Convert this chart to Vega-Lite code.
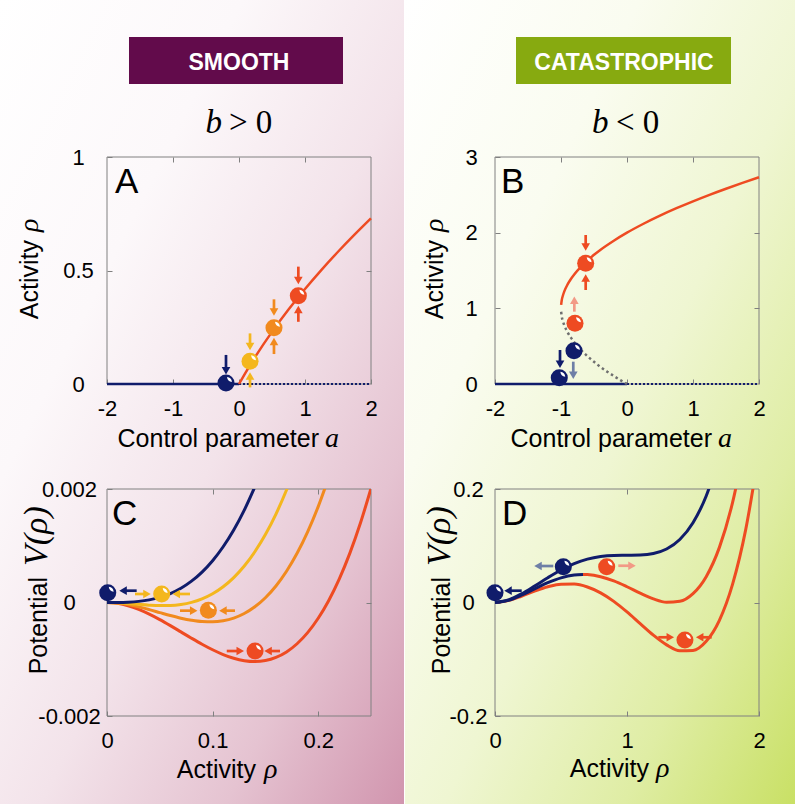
{
"$schema": "https://vega.github.io/schema/vega-lite/v6.json",
"padding": 0,
"autosize": {"type": "pad"},
"background": "white",
"bounds": "flush",
"columns": 2,
"spacing": {"row": 105, "column": 124},
"datasets": {
"aSolid": [{"x":-2,"y":0},{"x":0,"y":0}],
"aDot": [{"x":0,"y":0},{"x":2,"y":0}],
"aCurve": [{"x":0,"y":0},{"x":0.1,"y":0.0505},{"x":0.25,"y":0.1215},{"x":0.5,"y":0.2295},{"x":0.75,"y":0.3277},{"x":1,"y":0.4183},{"x":1.25,"y":0.503},{"x":1.5,"y":0.5826},{"x":1.75,"y":0.658},{"x":2,"y":0.73}],
"aBall": [{"x":-0.197,"y":0.004,"s":"navy"},{"x":0.167,"y":0.1,"s":"yellow"},{"x":0.53,"y":0.248,"s":"orange"},{"x":0.899,"y":0.389,"s":"red"}],
"aArr": [
{"x":-0.197,"y":0.128,"hx":-0.197,"hy":0.058,"s":"navy","d":"down"},
{"x":0.167,"y":0.223,"hx":0.167,"hy":0.165,"s":"yellow","d":"down"},
{"x":0.167,"y":-0.015,"hx":0.167,"hy":0.035,"s":"yellow","d":"up"},
{"x":0.53,"y":0.373,"hx":0.53,"hy":0.317,"s":"orange","d":"down"},
{"x":0.53,"y":0.132,"hx":0.53,"hy":0.187,"s":"orange","d":"up"},
{"x":0.899,"y":0.517,"hx":0.899,"hy":0.456,"s":"red","d":"down"},
{"x":0.899,"y":0.274,"hx":0.899,"hy":0.328,"s":"red","d":"up"}],
"bSolid": [{"x":-2,"y":0},{"x":0,"y":0}],
"bDot": [{"x":0,"y":0},{"x":2,"y":0}],
"bStable": [{"x":-0.998,"y":1.045},{"x":-0.99,"y":1.1},{"x":-0.97,"y":1.173},{"x":-0.95,"y":1.224},{"x":-0.9,"y":1.316},{"x":-0.85,"y":1.387},{"x":-0.8,"y":1.447},{"x":-0.7,"y":1.548},{"x":-0.6,"y":1.632},{"x":-0.5,"y":1.707},{"x":-0.4,"y":1.775},{"x":-0.2,"y":1.894},{"x":0,"y":2},{"x":0.25,"y":2.118},{"x":0.5,"y":2.225},{"x":0.75,"y":2.323},{"x":1,"y":2.414},{"x":1.25,"y":2.5},{"x":1.5,"y":2.581},{"x":1.75,"y":2.658},{"x":2,"y":2.732}],
"bUnstable": [{"x":-0.998,"y":0.955},{"x":-0.99,"y":0.9},{"x":-0.97,"y":0.827},{"x":-0.95,"y":0.776},{"x":-0.9,"y":0.684},{"x":-0.85,"y":0.613},{"x":-0.8,"y":0.553},{"x":-0.7,"y":0.452},{"x":-0.6,"y":0.368},{"x":-0.5,"y":0.293},{"x":-0.4,"y":0.225},{"x":-0.3,"y":0.163},{"x":-0.2,"y":0.106},{"x":-0.1,"y":0.051},{"x":0,"y":0}],
"bBall": [{"x":-1.026,"y":0.083,"s":"navy"},{"x":-0.803,"y":0.44,"s":"navy"},{"x":-0.788,"y":0.802,"s":"red"},{"x":-0.626,"y":1.595,"s":"red"}],
"bArr": [
{"x":-0.626,"y":1.969,"hx":-0.626,"hy":1.811,"s":"red","d":"down"},
{"x":-0.626,"y":1.242,"hx":-0.626,"hy":1.401,"s":"red","d":"up"},
{"x":-0.798,"y":0.956,"hx":-0.798,"hy":1.106,"s":"salmon","d":"up"},
{"x":-1.015,"y":0.449,"hx":-1.015,"hy":0.26,"s":"navy","d":"down"},
{"x":-0.814,"y":0.295,"hx":-0.814,"hy":0.115,"s":"slate","d":"down"}],
"cCurve": [
{"x":0,"y":0,"k":"r","s":"red"},{"x":0.01,"y":-0.000015,"k":"r","s":"red"},{"x":0.02,"y":-0.000057,"k":"r","s":"red"},{"x":0.03,"y":-0.0001217,"k":"r","s":"red"},{"x":0.04,"y":-0.0002045,"k":"r","s":"red"},{"x":0.05,"y":-0.0003012,"k":"r","s":"red"},{"x":0.06,"y":-0.0004071,"k":"r","s":"red"},{"x":0.07,"y":-0.0005178,"k":"r","s":"red"},{"x":0.08,"y":-0.0006287,"k":"r","s":"red"},{"x":0.09,"y":-0.0007353,"k":"r","s":"red"},{"x":0.1,"y":-0.0008329,"k":"r","s":"red"},{"x":0.11,"y":-0.0009169,"k":"r","s":"red"},{"x":0.12,"y":-0.0009826,"k":"r","s":"red"},{"x":0.13,"y":-0.0010252,"k":"r","s":"red"},{"x":0.14,"y":-0.0010402,"k":"r","s":"red"},{"x":0.15,"y":-0.0010227,"k":"r","s":"red"},{"x":0.16,"y":-0.0009678,"k":"r","s":"red"},{"x":0.17,"y":-0.0008709,"k":"r","s":"red"},{"x":0.18,"y":-0.0007269,"k":"r","s":"red"},{"x":0.19,"y":-0.0005311,"k":"r","s":"red"},{"x":0.2,"y":-0.0002784,"k":"r","s":"red"},{"x":0.21,"y":0.0000361,"k":"r","s":"red"},{"x":0.22,"y":0.0004173,"k":"r","s":"red"},{"x":0.23,"y":0.0008702,"k":"r","s":"red"},{"x":0.24,"y":0.0014,"k":"r","s":"red"},{"x":0.25,"y":0.0020117,"k":"r","s":"red"},
{"x":0,"y":0,"k":"o","s":"orange"},{"x":0.01,"y":-0.0000101,"k":"o","s":"orange"},{"x":0.02,"y":-0.0000373,"k":"o","s":"orange"},{"x":0.03,"y":-0.0000774,"k":"o","s":"orange"},{"x":0.04,"y":-0.0001258,"k":"o","s":"orange"},{"x":0.05,"y":-0.0001782,"k":"o","s":"orange"},{"x":0.06,"y":-0.00023,"k":"o","s":"orange"},{"x":0.07,"y":-0.0002767,"k":"o","s":"orange"},{"x":0.08,"y":-0.0003138,"k":"o","s":"orange"},{"x":0.09,"y":-0.0003368,"k":"o","s":"orange"},{"x":0.1,"y":-0.0003409,"k":"o","s":"orange"},{"x":0.11,"y":-0.0003216,"k":"o","s":"orange"},{"x":0.12,"y":-0.0002741,"k":"o","s":"orange"},{"x":0.13,"y":-0.0001937,"k":"o","s":"orange"},{"x":0.14,"y":-0.0000759,"k":"o","s":"orange"},{"x":0.15,"y":0.0000843,"k":"o","s":"orange"},{"x":0.16,"y":0.0002917,"k":"o","s":"orange"},{"x":0.17,"y":0.000551,"k":"o","s":"orange"},{"x":0.18,"y":0.0008672,"k":"o","s":"orange"},{"x":0.19,"y":0.001245,"k":"o","s":"orange"},{"x":0.2,"y":0.0016896,"k":"o","s":"orange"},{"x":0.21,"y":0.0022058,"k":"o","s":"orange"},
{"x":0,"y":0,"k":"y","s":"yellow"},{"x":0.01,"y":-0.0000051,"k":"y","s":"yellow"},{"x":0.02,"y":-0.0000175,"k":"y","s":"yellow"},{"x":0.03,"y":-0.0000328,"k":"y","s":"yellow"},{"x":0.04,"y":-0.0000466,"k":"y","s":"yellow"},{"x":0.05,"y":-0.0000545,"k":"y","s":"yellow"},{"x":0.06,"y":-0.0000518,"k":"y","s":"yellow"},{"x":0.07,"y":-0.0000342,"k":"y","s":"yellow"},{"x":0.08,"y":0.000003,"k":"y","s":"yellow"},{"x":0.09,"y":0.0000642,"k":"y","s":"yellow"},{"x":0.1,"y":0.0001541,"k":"y","s":"yellow"},{"x":0.11,"y":0.0002774,"k":"y","s":"yellow"},{"x":0.12,"y":0.0004387,"k":"y","s":"yellow"},{"x":0.13,"y":0.0006428,"k":"y","s":"yellow"},{"x":0.14,"y":0.0008943,"k":"y","s":"yellow"},{"x":0.15,"y":0.001198,"k":"y","s":"yellow"},{"x":0.16,"y":0.0015589,"k":"y","s":"yellow"},{"x":0.17,"y":0.0019815,"k":"y","s":"yellow"},{"x":0.18,"y":0.002471,"k":"y","s":"yellow"},
{"x":0,"y":0,"k":"n","s":"navy"},{"x":0.01,"y":0.0000007,"k":"n","s":"navy"},{"x":0.02,"y":0.0000058,"k":"n","s":"navy"},{"x":0.03,"y":0.0000197,"k":"n","s":"navy"},{"x":0.04,"y":0.0000467,"k":"n","s":"navy"},{"x":0.05,"y":0.0000913,"k":"n","s":"navy"},{"x":0.06,"y":0.0001581,"k":"n","s":"navy"},{"x":0.07,"y":0.0002515,"k":"n","s":"navy"},{"x":0.08,"y":0.0003761,"k":"n","s":"navy"},{"x":0.09,"y":0.0005364,"k":"n","s":"navy"},{"x":0.1,"y":0.0007371,"k":"n","s":"navy"},{"x":0.11,"y":0.0009828,"k":"n","s":"navy"},{"x":0.12,"y":0.0012782,"k":"n","s":"navy"},{"x":0.13,"y":0.0016281,"k":"n","s":"navy"},{"x":0.14,"y":0.002037,"k":"n","s":"navy"}],
"cBall": [{"x":0.0007,"y":0.000173,"s":"navy"},{"x":0.0518,"y":0.00015,"s":"yellow"},{"x":0.096,"y":-0.000138,"s":"orange"},{"x":0.1402,"y":-0.000855,"s":"red"}],
"cArr": [
{"x":0.0281,"y":0.000208,"hx":0.0152,"hy":0.000208,"s":"navy","d":"left"},
{"x":0.0265,"y":0.00015,"hx":0.0379,"hy":0.00015,"s":"yellow","d":"right"},
{"x":0.0786,"y":0.00015,"hx":0.0656,"hy":0.00015,"s":"yellow","d":"left"},
{"x":0.0691,"y":-0.000144,"hx":0.0821,"hy":-0.000144,"s":"orange","d":"right"},
{"x":0.1212,"y":-0.000144,"hx":0.1098,"hy":-0.000144,"s":"orange","d":"left"},
{"x":0.1134,"y":-0.000855,"hx":0.1262,"hy":-0.000855,"s":"red","d":"right"},
{"x":0.1638,"y":-0.000855,"hx":0.1525,"hy":-0.000855,"s":"red","d":"left"}],
"dCurve": [
{"x":0,"y":0,"k":"b","s":"red"},{"x":0.1,"y":0.003358,"k":"b","s":"red"},{"x":0.2,"y":0.011067,"k":"b","s":"red"},{"x":0.3,"y":0.020025,"k":"b","s":"red"},{"x":0.4,"y":0.027733,"k":"b","s":"red"},{"x":0.5,"y":0.032292,"k":"b","s":"red"},{"x":0.6,"y":0.0324,"k":"b","s":"red"},{"x":0.7,"y":0.027358,"k":"b","s":"red"},{"x":0.8,"y":0.017067,"k":"b","s":"red"},{"x":0.9,"y":0.002025,"k":"b","s":"red"},{"x":1.0,"y":-0.016667,"k":"b","s":"red"},{"x":1.1,"y":-0.037308,"k":"b","s":"red"},{"x":1.2,"y":-0.0576,"k":"b","s":"red"},{"x":1.3,"y":-0.074642,"k":"b","s":"red"},{"x":1.4,"y":-0.084933,"k":"b","s":"red"},{"x":1.5,"y":-0.084375,"k":"b","s":"red"},{"x":1.6,"y":-0.068267,"k":"b","s":"red"},{"x":1.7,"y":-0.031308,"k":"b","s":"red"},{"x":1.8,"y":0.0324,"k":"b","s":"red"},{"x":1.9,"y":0.129358,"k":"b","s":"red"},{"x":2.0,"y":0.266667,"k":"b","s":"red"},
{"x":0.6667,"y":0.049383,"k":"m2","s":"red"},{"x":0.7,"y":0.049136,"k":"m2","s":"red"},{"x":0.8,"y":0.045511,"k":"m2","s":"red"},{"x":0.9,"y":0.038025,"k":"m2","s":"red"},{"x":1.0,"y":0.027777,"k":"m2","s":"red"},{"x":1.1,"y":0.01647,"k":"m2","s":"red"},{"x":1.2,"y":0.0064,"k":"m2","s":"red"},{"x":1.3,"y":0.000469,"k":"m2","s":"red"},{"x":1.4,"y":0.002178,"k":"m2","s":"red"},{"x":1.5,"y":0.015625,"k":"m2","s":"red"},{"x":1.6,"y":0.045511,"k":"m2","s":"red"},{"x":1.7,"y":0.097136,"k":"m2","s":"red"},{"x":1.8,"y":0.1764,"k":"m2","s":"red"},{"x":1.9,"y":0.289802,"k":"m2","s":"red"},
{"x":0,"y":0,"k":"m1","s":"navy"},{"x":0.1,"y":0.003802,"k":"m1","s":"navy"},{"x":0.2,"y":0.012845,"k":"m1","s":"navy"},{"x":0.3,"y":0.024025,"k":"m1","s":"navy"},{"x":0.4,"y":0.034844,"k":"m1","s":"navy"},{"x":0.5,"y":0.043403,"k":"m1","s":"navy"},{"x":0.6,"y":0.0484,"k":"m1","s":"navy"},{"x":0.6667,"y":0.049383,"k":"m1","s":"navy"},
{"x":0,"y":0,"k":"t","s":"navy"},{"x":0.1,"y":0.004358,"k":"t","s":"navy"},{"x":0.2,"y":0.015067,"k":"t","s":"navy"},{"x":0.3,"y":0.029025,"k":"t","s":"navy"},{"x":0.4,"y":0.043733,"k":"t","s":"navy"},{"x":0.5,"y":0.057292,"k":"t","s":"navy"},{"x":0.6,"y":0.0684,"k":"t","s":"navy"},{"x":0.7,"y":0.076358,"k":"t","s":"navy"},{"x":0.8,"y":0.081067,"k":"t","s":"navy"},{"x":0.9,"y":0.083025,"k":"t","s":"navy"},{"x":1.0,"y":0.083333,"k":"t","s":"navy"},{"x":1.1,"y":0.083692,"k":"t","s":"navy"},{"x":1.2,"y":0.0864,"k":"t","s":"navy"},{"x":1.3,"y":0.094358,"k":"t","s":"navy"},{"x":1.4,"y":0.111067,"k":"t","s":"navy"},{"x":1.5,"y":0.140625,"k":"t","s":"navy"},{"x":1.6,"y":0.187733,"k":"t","s":"navy"},{"x":1.7,"y":0.257692,"k":"t","s":"navy"}],
"dBall": [{"x":0,"y":0.0173,"s":"navy"},{"x":0.5177,"y":0.0631,"s":"navy"},{"x":0.846,"y":0.0631,"s":"red"},{"x":1.439,"y":-0.0661,"s":"red"}],
"dArr": [
{"x":0.2023,"y":0.0208,"hx":0.0985,"hy":0.0208,"s":"navy","d":"left"},
{"x":0.4417,"y":0.0643,"hx":0.3258,"hy":0.0643,"s":"slate","d":"left"},
{"x":0.9341,"y":0.0648,"hx":1.0379,"hy":0.0648,"s":"salmon","d":"right"},
{"x":1.2371,"y":-0.0613,"hx":1.328,"hy":-0.0613,"s":"red","d":"right"},
{"x":1.6417,"y":-0.0613,"hx":1.5508,"hy":-0.0613,"s":"red","d":"left"}]
},
"concat": [
{"width": 264, "height": 52,
 "data":{"values":[{}]},
 "mark":{"type":"rect","fill":{"gradient":"linear","x1":0,"y1":0,"x2":1,"y2":1,"stops":[{"offset":0,"color":"#ffffff"},{"offset":0.3,"color":"#fcf8fa"},{"offset":0.55,"color":"#f3e3ea"},{"offset":0.78,"color":"#e5c3d1"},{"offset":1,"color":"#d195ae"}]}},
 "encoding":{"x":{"datum":-0.4053,"type":"quantitative","scale":{"domain":[0,1],"nice":false,"zero":false},"axis":null},"x2":{"datum":1.125},
 "y":{"datum":1,"type":"quantitative","scale":{"domain":[0,1],"nice":false,"zero":false},"axis":null},"y2":{"datum":-14.4615}}},
{"width": 264, "height": 52,
 "data":{"values":[{}]},
 "mark":{"type":"rect","fill":{"gradient":"linear","x1":0,"y1":0,"x2":1,"y2":1,"stops":[{"offset":0,"color":"#ffffff"},{"offset":0.3,"color":"#fafcf0"},{"offset":0.55,"color":"#eff6d2"},{"offset":0.78,"color":"#dfeda4"},{"offset":1,"color":"#c9e065"}]}},
 "encoding":{"x":{"datum":-0.34091,"type":"quantitative","scale":{"domain":[0,1],"nice":false,"zero":false},"axis":null},"x2":{"datum":1.13636},
 "y":{"datum":1,"type":"quantitative","scale":{"domain":[0,1],"nice":false,"zero":false},"axis":null},"y2":{"datum":-14.4615}}},
{
"width": 264, "height": 227,
"resolve": {"axis": {"x": "independent", "y": "independent"}},
"layer": [
{"layer": [
{"data":{"values":[{}]},"mark":{"type":"rect","fill":"transparent","stroke":"#808080","strokeWidth":1},
 "encoding":{"x":{"datum":-2,"type":"quantitative","scale":{"domain":[-2,2],"nice":false,"zero":false},"axis":{"orient":"bottom","values":[-2,-1,0,1,2],"title":null,"labelPadding":19,"labelExpr":"replace(format(datum.value, '~r'), '\u2212', '-')"}},"x2":{"datum":2},
 "y":{"datum":0,"type":"quantitative","scale":{"domain":[0,1],"nice":false,"zero":false},"axis":{"orient":"left","values":[0,0.5,1],"title":null,"labelAlign":"center","labelPadding":34,"labelExpr":"replace(format(datum.value, '~r'), '\u2212', '-')"}},"y2":{"datum":1}}},
{"data":{"values":[{}]},"mark":{"type":"rect","fill":"#620b4b"},"encoding":{"x":{"datum":-1.6667,"type":"quantitative"},"x2":{"datum":1.5758},"y":{"datum":1.5286,"type":"quantitative"},"y2":{"datum":1.3216}}},
{"data":{"values":[{}]},"mark":{"type":"text","text":"SMOOTH","font":"Liberation Sans","fontSize":23,"fontWeight":"bold","color":"#ffffff","align":"center","baseline":"alphabetic"},"encoding":{"x":{"datum":0,"type":"quantitative"},"y":{"datum":1.3833,"type":"quantitative"}}},
{"data":{"values":[{}]},"mark":{"type":"text","text":"b","font":"Liberation Serif","fontSize":33,"fontStyle":"italic","color":"#000000","align":"right","baseline":"alphabetic"},"encoding":{"x":{"datum":-0.2576,"type":"quantitative"},"y":{"datum":1.1057,"type":"quantitative"}}},
{"data":{"values":[{}]},"mark":{"type":"text","text":"> 0","font":"Liberation Serif","fontSize":33,"color":"#000000","align":"left","baseline":"alphabetic"},"encoding":{"x":{"datum":-0.1515,"type":"quantitative"},"y":{"datum":1.1057,"type":"quantitative"}}},
{"data":{"name":"aSolid"},"mark":{"type":"line","color":"#101c6b","strokeWidth":2.5},"encoding":{"x":{"field":"x","type":"quantitative","title":null},"y":{"field":"y","type":"quantitative","title":null}}},
{"data":{"name":"aDot"},"mark":{"type":"line","color":"#101c6b","strokeWidth":2,"strokeDash":[2,2]},"encoding":{"x":{"field":"x","type":"quantitative","title":null},"y":{"field":"y","type":"quantitative","title":null}}},
{"data":{"name":"aCurve"},"mark":{"type":"line","color":"#ee4b22","strokeWidth":2.5,"interpolate":"monotone"},"encoding":{"x":{"field":"x","type":"quantitative","title":null},"y":{"field":"y","type":"quantitative","title":null}}},
{"data":{"name":"aArr"},"mark":{"type":"rule","strokeWidth":2.7},"encoding":{"x":{"field":"x","type":"quantitative","title":null},"y":{"field":"y","type":"quantitative","title":null},"x2":{"field":"hx"},"y2":{"field":"hy"},"color":{"field":"s","type":"nominal","scale":{"domain":["navy","yellow","orange","red","salmon","slate","gray"],"range":["#101c6b","#f4b71e","#f18a1e","#ee4b22","#f29a86","#6e7fa6","#6f6f6f"]},"legend":null}}},
{"data":{"name":"aArr"},"mark":{"type":"point","filled":true,"opacity":1,"size":75},"encoding":{"x":{"field":"hx","type":"quantitative","title":null},"y":{"field":"hy","type":"quantitative","title":null},"shape":{"field":"d","type":"nominal","scale":{"domain":["down","up","left","right"],"range":["triangle-down","triangle-up","triangle-left","triangle-right"]},"legend":null},"color":{"field":"s","type":"nominal","scale":{"domain":["navy","yellow","orange","red","salmon","slate","gray"],"range":["#101c6b","#f4b71e","#f18a1e","#ee4b22","#f29a86","#6e7fa6","#6f6f6f"]},"legend":null}}},
{"data":{"name":"aBall"},"mark":{"type":"point","shape":"circle","filled":true,"opacity":1,"size":290},"encoding":{"x":{"field":"x","type":"quantitative","title":null},"y":{"field":"y","type":"quantitative","title":null},"color":{"field":"s","type":"nominal","scale":{"domain":["navy","yellow","orange","red","salmon","slate","gray"],"range":["#101c6b","#f4b71e","#f18a1e","#ee4b22","#f29a86","#6e7fa6","#6f6f6f"]},"legend":null}}},
{"data":{"name":"aBall"},"mark":{"type":"point","shape":"M -1 0 Q 0 -0.8 1 0 Q 0 0.8 -1 0 Z","filled":true,"opacity":1,"size":49,"color":"#ffffff","angle":45,"xOffset":3.5,"yOffset":-3.5},"encoding":{"x":{"field":"x","type":"quantitative","title":null},"y":{"field":"y","type":"quantitative","title":null}}},
{"data":{"values":[{}]},"mark":{"type":"text","text":"A","font":"Liberation Sans","fontSize":35,"color":"#000000","align":"left","baseline":"top","dx":8,"dy":8},"encoding":{"x":{"datum":-2,"type":"quantitative"},"y":{"datum":1,"type":"quantitative"}}},
{"data":{"values":[{}]},"mark":{"type":"text","text":"Control parameter","font":"Liberation Sans","fontSize":25,"color":"#000000","align":"right","baseline":"alphabetic"},"encoding":{"x":{"datum":1.2121,"type":"quantitative"},"y":{"datum":-0.2775,"type":"quantitative"}}},
{"data":{"values":[{}]},"mark":{"type":"text","text":"a","font":"Liberation Serif","fontSize":28,"fontStyle":"italic","color":"#000000","align":"left","baseline":"alphabetic"},"encoding":{"x":{"datum":1.303,"type":"quantitative"},"y":{"datum":-0.2775,"type":"quantitative"}}},
{"data":{"values":[{}]},"mark":{"type":"text","text":"Activity","font":"Liberation Sans","fontSize":25,"color":"#000000","angle":270,"align":"right","baseline":"alphabetic"},"encoding":{"x":{"datum":-3.0379,"type":"quantitative"},"y":{"datum":0.6344,"type":"quantitative"}}},
{"data":{"values":[{}]},"mark":{"type":"text","text":"ρ","font":"Liberation Serif","fontSize":28,"fontStyle":"italic","color":"#000000","angle":270,"align":"left","baseline":"alphabetic"},"encoding":{"x":{"datum":-3.0379,"type":"quantitative"},"y":{"datum":0.6696,"type":"quantitative"}}}
]},
{"data":{"values":[{}]},"mark":{"type":"point","opacity":0,"size":0},"encoding":{"x":{"datum":0,"type":"quantitative","axis":{"orient":"top","values":[-1,0,1],"labels":false,"title":null}},"y":{"datum":0.5,"type":"quantitative","axis":{"orient":"right","values":[0.5],"labels":false,"title":null}}}}
]
},
{
"width": 264, "height": 227,
"resolve": {"axis": {"x": "independent", "y": "independent"}},
"layer": [
{"layer": [
{"data":{"values":[{}]},"mark":{"type":"rect","fill":"transparent","stroke":"#808080","strokeWidth":1},
 "encoding":{"x":{"datum":-2,"type":"quantitative","scale":{"domain":[-2,2],"nice":false,"zero":false},"axis":{"orient":"bottom","values":[-2,-1,0,1,2],"title":null,"labelPadding":19,"labelExpr":"replace(format(datum.value, '~r'), '\u2212', '-')"}},"x2":{"datum":2},
 "y":{"datum":0,"type":"quantitative","scale":{"domain":[0,3],"nice":false,"zero":false},"axis":{"orient":"left","values":[0,1,2,3],"title":null,"labelAlign":"center","labelPadding":29,"labelExpr":"replace(format(datum.value, '~r'), '\u2212', '-')"}},"y2":{"datum":3}}},
{"data":{"values":[{}]},"mark":{"type":"rect","fill":"#87aa10"},"encoding":{"x":{"datum":-1.6818,"type":"quantitative"},"x2":{"datum":1.5758},"y":{"datum":4.5859,"type":"quantitative"},"y2":{"datum":3.9648}}},
{"data":{"values":[{}]},"mark":{"type":"text","text":"CATASTROPHIC","font":"Liberation Sans","fontSize":23,"fontWeight":"bold","color":"#ffffff","align":"center","baseline":"alphabetic"},"encoding":{"x":{"datum":-0.0455,"type":"quantitative"},"y":{"datum":4.1498,"type":"quantitative"}}},
{"data":{"values":[{}]},"mark":{"type":"text","text":"b","font":"Liberation Serif","fontSize":33,"fontStyle":"italic","color":"#000000","align":"right","baseline":"alphabetic"},"encoding":{"x":{"datum":-0.2803,"type":"quantitative"},"y":{"datum":3.3172,"type":"quantitative"}}},
{"data":{"values":[{}]},"mark":{"type":"text","text":"< 0","font":"Liberation Serif","fontSize":33,"color":"#000000","align":"left","baseline":"alphabetic"},"encoding":{"x":{"datum":-0.1667,"type":"quantitative"},"y":{"datum":3.3172,"type":"quantitative"}}},
{"data":{"name":"bSolid"},"mark":{"type":"line","color":"#101c6b","strokeWidth":2.5},"encoding":{"x":{"field":"x","type":"quantitative","title":null},"y":{"field":"y","type":"quantitative","title":null}}},
{"data":{"name":"bDot"},"mark":{"type":"line","color":"#101c6b","strokeWidth":2,"strokeDash":[2,2]},"encoding":{"x":{"field":"x","type":"quantitative","title":null},"y":{"field":"y","type":"quantitative","title":null}}},
{"data":{"name":"bUnstable"},"mark":{"type":"line","color":"#6f6f6f","strokeWidth":2.5,"strokeDash":[2.5,3],"interpolate":"monotone"},"encoding":{"x":{"field":"x","type":"quantitative","title":null},"y":{"field":"y","type":"quantitative","title":null}}},
{"data":{"name":"bStable"},"mark":{"type":"line","color":"#ee4b22","strokeWidth":2.5,"interpolate":"monotone"},"encoding":{"x":{"field":"x","type":"quantitative","title":null},"y":{"field":"y","type":"quantitative","title":null}}},
{"data":{"name":"bArr"},"mark":{"type":"rule","strokeWidth":2.7},"encoding":{"x":{"field":"x","type":"quantitative","title":null},"y":{"field":"y","type":"quantitative","title":null},"x2":{"field":"hx"},"y2":{"field":"hy"},"color":{"field":"s","type":"nominal","scale":{"domain":["navy","yellow","orange","red","salmon","slate","gray"],"range":["#101c6b","#f4b71e","#f18a1e","#ee4b22","#f29a86","#6e7fa6","#6f6f6f"]},"legend":null}}},
{"data":{"name":"bArr"},"mark":{"type":"point","filled":true,"opacity":1,"size":75},"encoding":{"x":{"field":"hx","type":"quantitative","title":null},"y":{"field":"hy","type":"quantitative","title":null},"shape":{"field":"d","type":"nominal","scale":{"domain":["down","up","left","right"],"range":["triangle-down","triangle-up","triangle-left","triangle-right"]},"legend":null},"color":{"field":"s","type":"nominal","scale":{"domain":["navy","yellow","orange","red","salmon","slate","gray"],"range":["#101c6b","#f4b71e","#f18a1e","#ee4b22","#f29a86","#6e7fa6","#6f6f6f"]},"legend":null}}},
{"data":{"name":"bBall"},"mark":{"type":"point","shape":"circle","filled":true,"opacity":1,"size":290},"encoding":{"x":{"field":"x","type":"quantitative","title":null},"y":{"field":"y","type":"quantitative","title":null},"color":{"field":"s","type":"nominal","scale":{"domain":["navy","yellow","orange","red","salmon","slate","gray"],"range":["#101c6b","#f4b71e","#f18a1e","#ee4b22","#f29a86","#6e7fa6","#6f6f6f"]},"legend":null}}},
{"data":{"name":"bBall"},"mark":{"type":"point","shape":"M -1 0 Q 0 -0.8 1 0 Q 0 0.8 -1 0 Z","filled":true,"opacity":1,"size":49,"color":"#ffffff","angle":45,"xOffset":3.5,"yOffset":-3.5},"encoding":{"x":{"field":"x","type":"quantitative","title":null},"y":{"field":"y","type":"quantitative","title":null}}},
{"data":{"values":[{}]},"mark":{"type":"text","text":"B","font":"Liberation Sans","fontSize":35,"color":"#000000","align":"left","baseline":"top","dx":6,"dy":8},"encoding":{"x":{"datum":-2,"type":"quantitative"},"y":{"datum":3,"type":"quantitative"}}},
{"data":{"values":[{}]},"mark":{"type":"text","text":"Control parameter","font":"Liberation Sans","fontSize":25,"color":"#000000","align":"right","baseline":"alphabetic"},"encoding":{"x":{"datum":1.2879,"type":"quantitative"},"y":{"datum":-0.8326,"type":"quantitative"}}},
{"data":{"values":[{}]},"mark":{"type":"text","text":"a","font":"Liberation Serif","fontSize":28,"fontStyle":"italic","color":"#000000","align":"left","baseline":"alphabetic"},"encoding":{"x":{"datum":1.3788,"type":"quantitative"},"y":{"datum":-0.8326,"type":"quantitative"}}},
{"data":{"values":[{}]},"mark":{"type":"text","text":"Activity","font":"Liberation Sans","fontSize":25,"color":"#000000","angle":270,"align":"right","baseline":"alphabetic"},"encoding":{"x":{"datum":-2.7879,"type":"quantitative"},"y":{"datum":1.9031,"type":"quantitative"}}},
{"data":{"values":[{}]},"mark":{"type":"text","text":"ρ","font":"Liberation Serif","fontSize":28,"fontStyle":"italic","color":"#000000","angle":270,"align":"left","baseline":"alphabetic"},"encoding":{"x":{"datum":-2.7879,"type":"quantitative"},"y":{"datum":2.0088,"type":"quantitative"}}}
]},
{"data":{"values":[{}]},"mark":{"type":"point","opacity":0,"size":0},"encoding":{"x":{"datum":0,"type":"quantitative","axis":{"orient":"top","values":[-1,0,1],"labels":false,"title":null}},"y":{"datum":1,"type":"quantitative","axis":{"orient":"right","values":[1,2],"labels":false,"title":null}}}}
]
},
{
"width": 264, "height": 227,
"resolve": {"axis": {"x": "independent", "y": "independent"}},
"layer": [
{"layer": [
{"data":{"values":[{}]},"mark":{"type":"rect","fill":"transparent","stroke":"#808080","strokeWidth":1},
 "encoding":{"x":{"datum":0,"type":"quantitative","scale":{"domain":[0,0.25],"nice":false,"zero":false},"axis":{"orient":"bottom","values":[0,0.1,0.2],"title":null,"labelPadding":19,"labelExpr":"replace(format(datum.value, '~r'), '\u2212', '-')"}},"x2":{"datum":0.25},
 "y":{"datum":-0.002,"type":"quantitative","scale":{"domain":[-0.002,0.002],"nice":false,"zero":false},"axis":{"orient":"left","values":[-0.002,0,0.002],"title":null,"labelAlign":"center","labelPadding":43,"labelExpr":"replace(format(datum.value, '~r'), '\u2212', '-')"}},"y2":{"datum":0.002}}},
{"data":{"name":"cCurve"},"mark":{"type":"line","strokeWidth":3,"interpolate":"monotone","clip":true},"encoding":{"x":{"field":"x","type":"quantitative","title":null},"y":{"field":"y","type":"quantitative","title":null},"detail":{"field":"k","type":"nominal"},"color":{"field":"s","type":"nominal","scale":{"domain":["navy","yellow","orange","red","salmon","slate","gray"],"range":["#101c6b","#f4b71e","#f18a1e","#ee4b22","#f29a86","#6e7fa6","#6f6f6f"]},"legend":null}}},
{"data":{"name":"cArr"},"mark":{"type":"rule","strokeWidth":2.7},"encoding":{"x":{"field":"x","type":"quantitative","title":null},"y":{"field":"y","type":"quantitative","title":null},"x2":{"field":"hx"},"y2":{"field":"hy"},"color":{"field":"s","type":"nominal","scale":{"domain":["navy","yellow","orange","red","salmon","slate","gray"],"range":["#101c6b","#f4b71e","#f18a1e","#ee4b22","#f29a86","#6e7fa6","#6f6f6f"]},"legend":null}}},
{"data":{"name":"cArr"},"mark":{"type":"point","filled":true,"opacity":1,"size":75},"encoding":{"x":{"field":"hx","type":"quantitative","title":null},"y":{"field":"hy","type":"quantitative","title":null},"shape":{"field":"d","type":"nominal","scale":{"domain":["down","up","left","right"],"range":["triangle-down","triangle-up","triangle-left","triangle-right"]},"legend":null},"color":{"field":"s","type":"nominal","scale":{"domain":["navy","yellow","orange","red","salmon","slate","gray"],"range":["#101c6b","#f4b71e","#f18a1e","#ee4b22","#f29a86","#6e7fa6","#6f6f6f"]},"legend":null}}},
{"data":{"name":"cBall"},"mark":{"type":"point","shape":"circle","filled":true,"opacity":1,"size":290},"encoding":{"x":{"field":"x","type":"quantitative","title":null},"y":{"field":"y","type":"quantitative","title":null},"color":{"field":"s","type":"nominal","scale":{"domain":["navy","yellow","orange","red","salmon","slate","gray"],"range":["#101c6b","#f4b71e","#f18a1e","#ee4b22","#f29a86","#6e7fa6","#6f6f6f"]},"legend":null}}},
{"data":{"name":"cBall"},"mark":{"type":"point","shape":"M -1 0 Q 0 -0.8 1 0 Q 0 0.8 -1 0 Z","filled":true,"opacity":1,"size":49,"color":"#ffffff","angle":45,"xOffset":3.5,"yOffset":-3.5},"encoding":{"x":{"field":"x","type":"quantitative","title":null},"y":{"field":"y","type":"quantitative","title":null}}},
{"data":{"values":[{}]},"mark":{"type":"text","text":"C","font":"Liberation Sans","fontSize":35,"color":"#000000","align":"left","baseline":"top","dx":5,"dy":8},"encoding":{"x":{"datum":0,"type":"quantitative"},"y":{"datum":0.002,"type":"quantitative"}}},
{"data":{"values":[{}]},"mark":{"type":"text","text":"Activity","font":"Liberation Sans","fontSize":25,"color":"#000000","align":"right","baseline":"alphabetic"},"encoding":{"x":{"datum":0.1411,"type":"quantitative"},"y":{"datum":-0.003093,"type":"quantitative"}}},
{"data":{"values":[{}]},"mark":{"type":"text","text":"ρ","font":"Liberation Serif","fontSize":28,"fontStyle":"italic","color":"#000000","align":"left","baseline":"alphabetic"},"encoding":{"x":{"datum":0.1487,"type":"quantitative"},"y":{"datum":-0.003093,"type":"quantitative"}}},
{"data":{"values":[{}]},"mark":{"type":"text","text":"Potential","font":"Liberation Sans","fontSize":25,"color":"#000000","angle":270,"align":"right","baseline":"alphabetic"},"encoding":{"x":{"datum":-0.0568,"type":"quantitative"},"y":{"datum":0.000449,"type":"quantitative"}}},
{"data":{"values":[{}]},"mark":{"type":"text","text":"V(ρ)","font":"Liberation Serif","fontSize":34,"fontStyle":"italic","color":"#000000","angle":270,"align":"left","baseline":"alphabetic"},"encoding":{"x":{"datum":-0.0568,"type":"quantitative"},"y":{"datum":0.000643,"type":"quantitative"}}}
]},
{"data":{"values":[{}]},"mark":{"type":"point","opacity":0,"size":0},"encoding":{"x":{"datum":0.1,"type":"quantitative","axis":{"orient":"top","values":[0.1,0.2],"labels":false,"title":null}},"y":{"datum":0,"type":"quantitative","axis":{"orient":"right","values":[0],"labels":false,"title":null}}}}
]
},
{
"width": 264, "height": 227,
"resolve": {"axis": {"x": "independent", "y": "independent"}},
"layer": [
{"layer": [
{"data":{"values":[{}]},"mark":{"type":"rect","fill":"transparent","stroke":"#808080","strokeWidth":1},
 "encoding":{"x":{"datum":0,"type":"quantitative","scale":{"domain":[0,2],"nice":false,"zero":false},"axis":{"orient":"bottom","values":[0,1,2],"title":null,"labelPadding":19,"labelExpr":"replace(format(datum.value, '~r'), '\u2212', '-')"}},"x2":{"datum":2},
 "y":{"datum":-0.2,"type":"quantitative","scale":{"domain":[-0.2,0.2],"nice":false,"zero":false},"axis":{"orient":"left","values":[-0.2,0,0.2],"title":null,"labelAlign":"center","labelPadding":32,"labelExpr":"replace(format(datum.value, '~r'), '\u2212', '-')"}},"y2":{"datum":0.2}}},
{"data":{"name":"dCurve"},"mark":{"type":"line","strokeWidth":3,"interpolate":"monotone","clip":true},"encoding":{"x":{"field":"x","type":"quantitative","title":null},"y":{"field":"y","type":"quantitative","title":null},"detail":{"field":"k","type":"nominal"},"color":{"field":"s","type":"nominal","scale":{"domain":["navy","yellow","orange","red","salmon","slate","gray"],"range":["#101c6b","#f4b71e","#f18a1e","#ee4b22","#f29a86","#6e7fa6","#6f6f6f"]},"legend":null}}},
{"data":{"name":"dArr"},"mark":{"type":"rule","strokeWidth":2.7},"encoding":{"x":{"field":"x","type":"quantitative","title":null},"y":{"field":"y","type":"quantitative","title":null},"x2":{"field":"hx"},"y2":{"field":"hy"},"color":{"field":"s","type":"nominal","scale":{"domain":["navy","yellow","orange","red","salmon","slate","gray"],"range":["#101c6b","#f4b71e","#f18a1e","#ee4b22","#f29a86","#6e7fa6","#6f6f6f"]},"legend":null}}},
{"data":{"name":"dArr"},"mark":{"type":"point","filled":true,"opacity":1,"size":75},"encoding":{"x":{"field":"hx","type":"quantitative","title":null},"y":{"field":"hy","type":"quantitative","title":null},"shape":{"field":"d","type":"nominal","scale":{"domain":["down","up","left","right"],"range":["triangle-down","triangle-up","triangle-left","triangle-right"]},"legend":null},"color":{"field":"s","type":"nominal","scale":{"domain":["navy","yellow","orange","red","salmon","slate","gray"],"range":["#101c6b","#f4b71e","#f18a1e","#ee4b22","#f29a86","#6e7fa6","#6f6f6f"]},"legend":null}}},
{"data":{"name":"dBall"},"mark":{"type":"point","shape":"circle","filled":true,"opacity":1,"size":290},"encoding":{"x":{"field":"x","type":"quantitative","title":null},"y":{"field":"y","type":"quantitative","title":null},"color":{"field":"s","type":"nominal","scale":{"domain":["navy","yellow","orange","red","salmon","slate","gray"],"range":["#101c6b","#f4b71e","#f18a1e","#ee4b22","#f29a86","#6e7fa6","#6f6f6f"]},"legend":null}}},
{"data":{"name":"dBall"},"mark":{"type":"point","shape":"M -1 0 Q 0 -0.8 1 0 Q 0 0.8 -1 0 Z","filled":true,"opacity":1,"size":49,"color":"#ffffff","angle":45,"xOffset":3.5,"yOffset":-3.5},"encoding":{"x":{"field":"x","type":"quantitative","title":null},"y":{"field":"y","type":"quantitative","title":null}}},
{"data":{"values":[{}]},"mark":{"type":"text","text":"D","font":"Liberation Sans","fontSize":35,"color":"#000000","align":"left","baseline":"top","dx":7,"dy":8},"encoding":{"x":{"datum":0,"type":"quantitative"},"y":{"datum":0.2,"type":"quantitative"}}},
{"data":{"values":[{}]},"mark":{"type":"text","text":"Activity","font":"Liberation Sans","fontSize":25,"color":"#000000","align":"right","baseline":"alphabetic"},"encoding":{"x":{"datum":1.1667,"type":"quantitative"},"y":{"datum":-0.3075,"type":"quantitative"}}},
{"data":{"values":[{}]},"mark":{"type":"text","text":"ρ","font":"Liberation Serif","fontSize":28,"fontStyle":"italic","color":"#000000","align":"left","baseline":"alphabetic"},"encoding":{"x":{"datum":1.2197,"type":"quantitative"},"y":{"datum":-0.3075,"type":"quantitative"}}},
{"data":{"values":[{}]},"mark":{"type":"text","text":"Potential","font":"Liberation Sans","fontSize":25,"color":"#000000","angle":270,"align":"right","baseline":"alphabetic"},"encoding":{"x":{"datum":-0.3409,"type":"quantitative"},"y":{"datum":0.04493,"type":"quantitative"}}},
{"data":{"values":[{}]},"mark":{"type":"text","text":"V(ρ)","font":"Liberation Serif","fontSize":34,"fontStyle":"italic","color":"#000000","angle":270,"align":"left","baseline":"alphabetic"},"encoding":{"x":{"datum":-0.3409,"type":"quantitative"},"y":{"datum":0.06432,"type":"quantitative"}}}
]},
{"data":{"values":[{}]},"mark":{"type":"point","opacity":0,"size":0},"encoding":{"x":{"datum":1,"type":"quantitative","axis":{"orient":"top","values":[1],"labels":false,"title":null}},"y":{"datum":0,"type":"quantitative","axis":{"orient":"right","values":[0],"labels":false,"title":null}}}}
]
}
],
"config": {
"view": {"stroke": null},
"font": "Liberation Sans",
"axis": {"grid": false, "domain": false, "ticks": true, "tickSize": -5, "tickColor": "#808080", "tickWidth": 1, "labelFont": "Liberation Sans", "labelFontSize": 22, "labelColor": "#000000", "labelFlush": false, "labelOverlap": false}
}
}
